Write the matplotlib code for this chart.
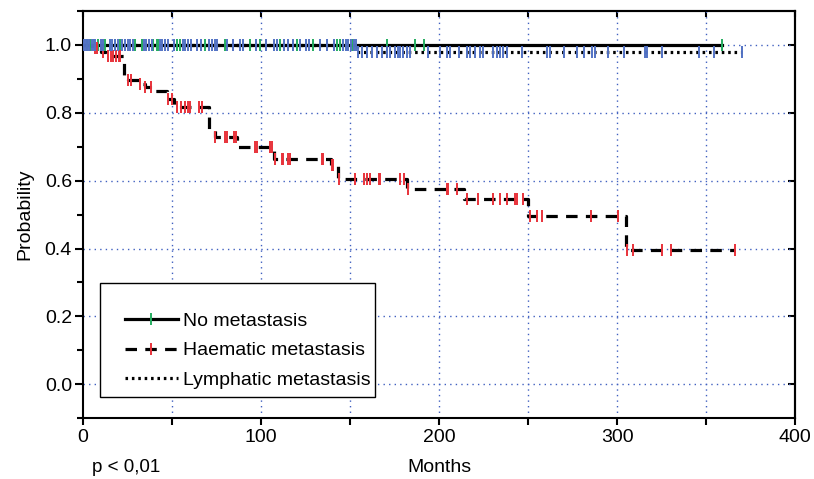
import numpy as np
import matplotlib
matplotlib.use("Agg")
import matplotlib.pyplot as plt
from matplotlib.lines import Line2D
from matplotlib.patches import Rectangle
from matplotlib.ticker import MultipleLocator, FormatStrFormatter

plt.rcParams['font.family'] = ['Liberation Sans', 'DejaVu Sans']

# Haematic metastasis: step times (months) and survival after each step
haem_t = [0, 5, 10, 13, 23, 25, 32, 35, 39, 47, 51, 71, 74, 86.5, 107, 139, 143, 182, 214, 250, 305]
haem_s = [1.0, 0.99, 0.978, 0.967, 0.91, 0.897, 0.886, 0.875, 0.864, 0.84, 0.817, 0.75, 0.73, 0.70,
          0.665, 0.645, 0.605, 0.575, 0.545, 0.497, 0.397]
haem_end = 366
haem_cens = [7, 8, 11, 14, 15.5, 17, 18.5, 20, 21, 25, 27, 32, 35, 38, 48, 50, 53, 55, 57, 59, 60,
             65, 67, 74, 80, 81, 85, 86, 96.6, 97.8, 105, 106, 108, 112, 112.4, 115, 116, 134, 135, 140,
             140.5, 144, 153, 158, 159.5, 161, 166, 167, 178, 180, 182.6, 204.5, 205, 210, 215.7, 222,
             230, 234, 238, 242.7, 243.8, 247, 251, 255, 258, 285, 300.6, 305.6, 309, 325, 330, 366]

# No metastasis: no events
nomet_t = [0]
nomet_s = [1.0]
nomet_end = 359
nomet_cens = [2, 4, 8.6, 12.4, 15.2, 18, 20.8, 29, 33, 39.5, 41.4, 42.3, 52.6, 54.5, 68.5, 79.8, 93.8,
              99.4, 110.7, 120, 129.4, 142.5, 144.4, 151.5, 170.6, 186.5, 191.6, 358.8]

# Lymphatic metastasis
lymph_t = [0, 154]
lymph_s = [1.0, 0.98]
lymph_end = 370
lymph_cens = [0.5, 1.5, 2.5, 3.5, 5, 6, 7, 10, 11, 15, 16.5, 18, 19.5, 22, 23.5, 25, 26.5, 28, 34, 35.5,
              37, 38.5, 43, 44.5, 46, 47.5, 51, 56, 57.5, 59, 60.5, 64, 66, 71, 72.5, 74, 75.5, 81, 84,
              88, 90, 97, 103, 107, 109, 113, 115, 118, 122, 125, 127, 133, 137, 141, 146, 147.5, 149,
              150.5, 152, 153.5, 154.7, 156.6, 159.4, 162.2, 165, 167.8, 170.6, 172.5, 175.3, 177.1,
              178.1, 179.9, 181.9, 183.7, 194, 200.6, 204.3, 206.2, 210.9, 215.6, 217.4, 220.2, 223,
              224.9, 230.5, 232.4, 234.3, 236.1, 238, 246.4, 260.5, 262.4, 269.9, 277.4, 281.1, 285.8,
              287.6, 295.1, 303.6, 315.7, 316.7, 325.1, 345.7, 354.2, 370]

labels = ['No metastasis', 'Haematic metastasis', 'Lymphatic metastasis']

RED = '#e8323a'
GREEN = '#25ad60'
BLUE = '#5272c4'
GRID = '#4060c0'


def surv_at(t_steps, s_steps, times):
    idx = np.searchsorted(t_steps, times, side='right') - 1
    return np.asarray(s_steps)[idx]


fig = plt.figure(figsize=(8.14, 4.79), dpi=100)
ax = fig.add_axes([0.102, 0.127, 0.875, 0.85])

styles = ['-', (0, (3.6, 2.6)), (0, (0.8, 1.2))]
curves = [
    (nomet_t, nomet_s, nomet_end, nomet_cens, GREEN),
    (haem_t, haem_s, haem_end, haem_cens, RED),
    (lymph_t, lymph_s, lymph_end, lymph_cens, BLUE),
]

handles = []
for (t, s, end, cens, col), ls in zip(curves, styles):
    tt = list(t) + [end]
    ss = list(s) + [s[-1]]
    ax.step(tt, ss, where='post', color='black', lw=2.3, linestyle=ls, zorder=3)
    ax.plot(cens, surv_at(t, s, cens), linestyle='none', marker='|', color=col,
            markersize=8.5, mew=1.4, zorder=4)
    mk = '|' if col != BLUE else 'None'
    handles.append(Line2D([], [], color='black', lw=2.3, linestyle=ls, marker=mk,
                          markersize=8, mew=1.4, markeredgecolor=col))

ax.set_xlim(0, 400)
ax.set_ylim(-0.1, 1.1)
ax.xaxis.set_major_locator(MultipleLocator(100))
ax.xaxis.set_minor_locator(MultipleLocator(50))
ax.yaxis.set_minor_locator(MultipleLocator(0.1))
ax.set_yticks([0.0, 0.2, 0.4, 0.6, 0.8, 1.0])
ax.yaxis.set_major_formatter(FormatStrFormatter('%.1f'))

for x in range(50, 400, 50):
    ax.axvline(x, color=GRID, lw=1.0, linestyle=(0, (1, 3)), zorder=1)
for y in [0.0, 0.2, 0.4, 0.6, 0.8, 1.0]:
    ax.axhline(y, color=GRID, lw=1.0, linestyle=(0, (1, 3)), zorder=1)

for sp in ax.spines.values():
    sp.set_linewidth(1.5)

ax.tick_params(axis='both', which='major', labelsize=14, width=1.5, length=6, direction='out')
ax.tick_params(axis='both', which='minor', width=1.5, length=4, direction='out')
ax.tick_params(axis='x', which='major', length=5, pad=3)
ax.tick_params(axis='x', which='minor', length=5)
ax.tick_params(axis='y', which='major', pad=2)

# inward ticks on top and right frame
top = ax.secondary_xaxis('top')
top.xaxis.set_major_locator(MultipleLocator(50))
top.tick_params(direction='in', length=4, width=1.5, labeltop=False)
top.spines['top'].set_linewidth(1.5)
right = ax.secondary_yaxis('right')
right.set_yticks([0.0, 0.2, 0.4, 0.6, 0.8, 1.0])
right.tick_params(direction='in', length=5, width=1.5, labelright=False)
right.spines['right'].set_linewidth(1.5)

ax.set_xlabel('Months', fontsize=14)
ax.xaxis.set_label_coords(0.5, -0.1)
ax.set_ylabel('Probability', fontsize=14)
ax.yaxis.set_label_coords(-0.07, 0.5)

fig.text(92 / 814, 1 - 468 / 479, 'p < 0,01', fontsize=13.5, va='center', ha='left')

# legend box drawn separately, legend entries inside without frame
ax.add_patch(Rectangle((17 / 712, 21 / 407), 275 / 712, 114 / 407, transform=ax.transAxes,
                       facecolor='white', edgecolor='black', lw=1.0, zorder=5))
leg = ax.legend(handles, labels, loc='upper left', bbox_to_anchor=(42 / 712, 106 / 407),
                fontsize=14, frameon=False, handlelength=2.7, handletextpad=0.3,
                labelspacing=0.62, borderpad=0, borderaxespad=0)
leg.set_zorder(6)

fig.savefig('out.png', dpi=100)
